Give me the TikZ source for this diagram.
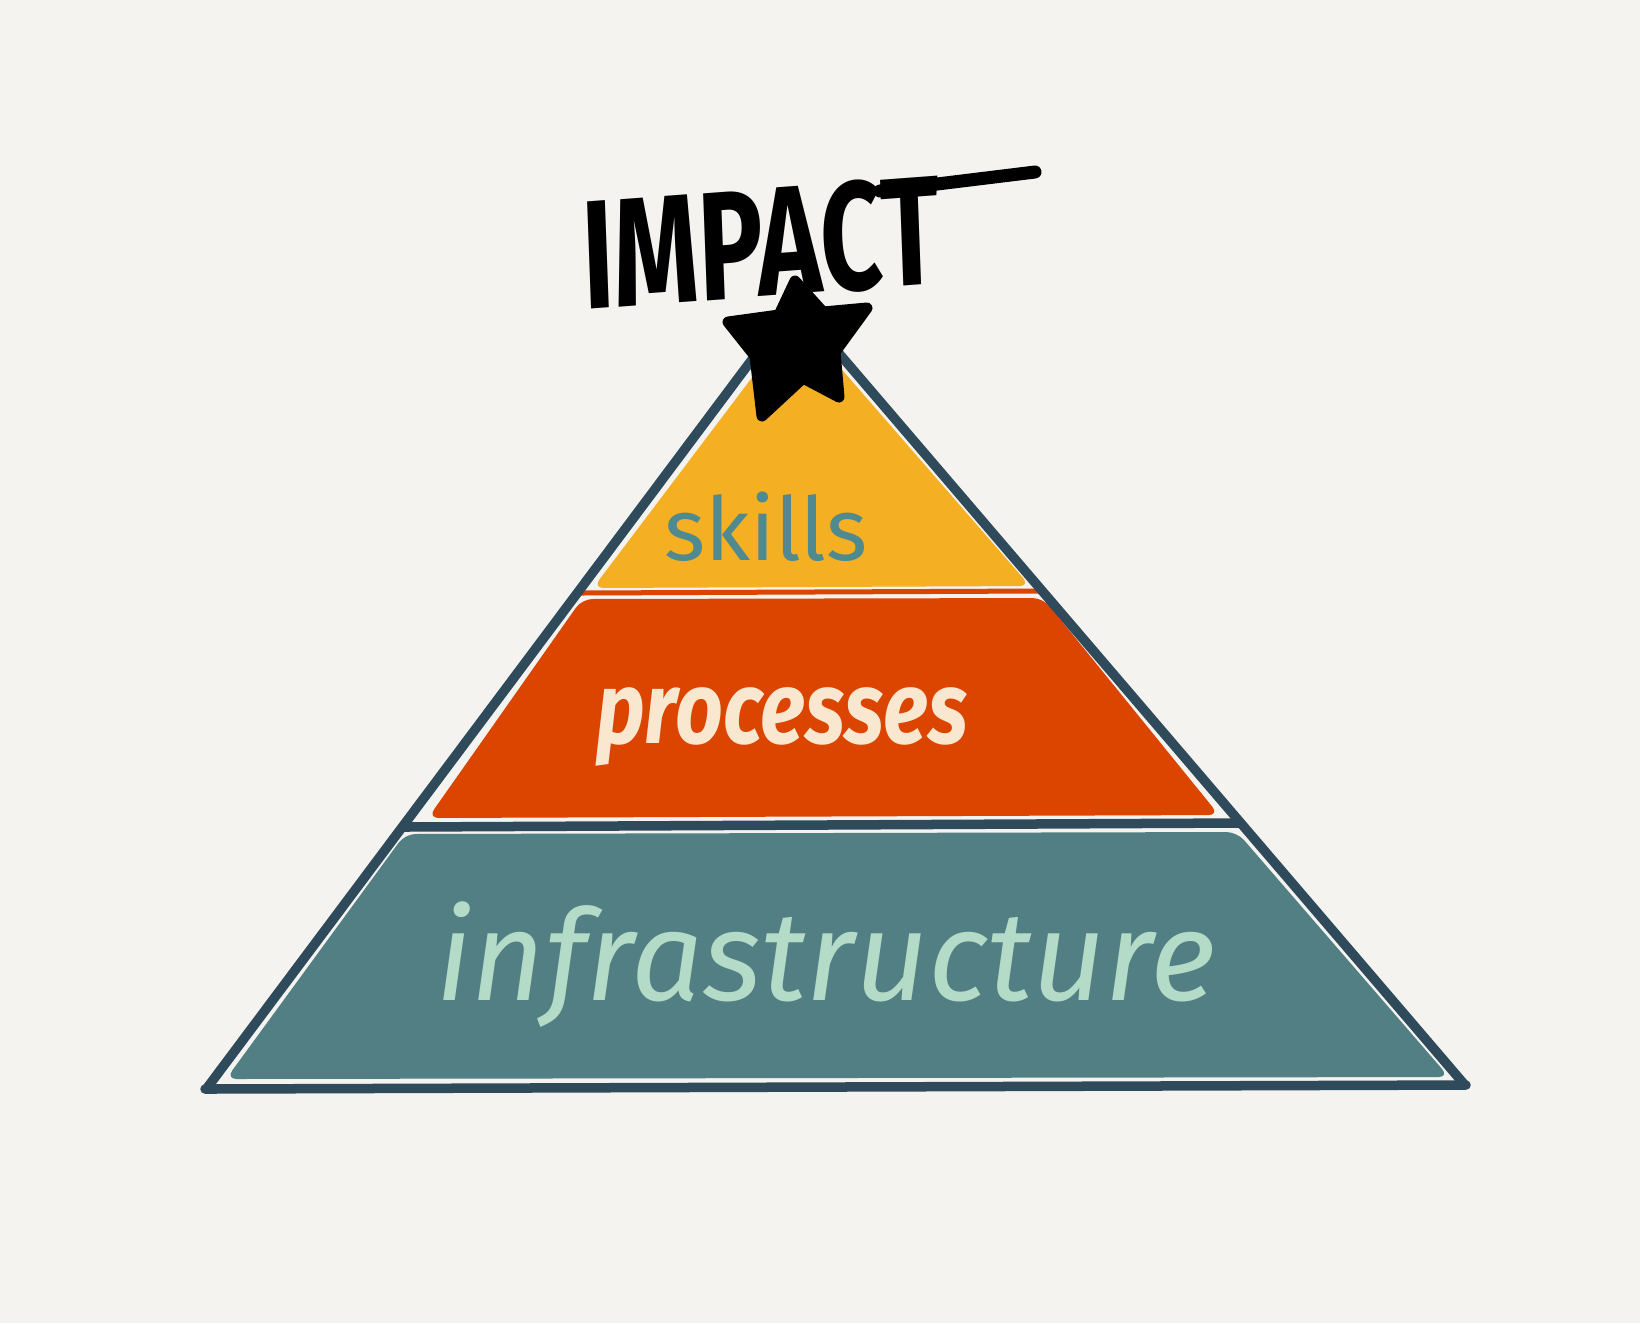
\documentclass[tikz,border=0pt]{standalone}
\usepackage{fontspec}
\setmainfont{Fira Sans}
\usetikzlibrary{calc}
\definecolor{paper}{HTML}{F4F3EF}
\definecolor{slate}{HTML}{2E4A5B}
\definecolor{mustard}{HTML}{F4AF22}
\definecolor{rust}{HTML}{DB4500}
\definecolor{seagreen}{HTML}{517F83}
\definecolor{cream}{HTML}{FAE7CF}
\definecolor{mint}{HTML}{B3DBC7}
\definecolor{skillink}{HTML}{4E8A90}
\def\band[#1](#2)(#3)(#4)(#5){\fill[#1] (#2) -- (#3) -- (#4) -- (#5) -- cycle;}

\begin{document}
\begin{tikzpicture}[x=0.01cm, y=-0.01cm]
			%%%%% START %%%%%
			
			\fill[paper] (0, 0) rectangle (1640, 1323);
			
			% layers
			\fill[mustard, rounded corners=3] (797, 318) -- (1030, 586) -- (593, 588) -- cycle;
			\draw[line width=0.5mm, color=rust, line cap=round] (578, 593) -- (1040, 591);
			\band[rust, rounded corners=3](582, 599)(1043, 598)(1219, 815)(428, 818)
			\band[seagreen, rounded corners=3](405, 834)(1237, 832)(1449, 1077)(226, 1079)
			
			% outline
			\draw[line width=0.95mm, color=slate, line join=round] (207, 1088) -- (795, 302) -- (1464, 1084);
			\draw[line width=0.95mm, color=slate, line cap=round] (205, 1089) -- (1466, 1085);
			\draw[line width=0.95mm, color=slate] (403, 827) -- (1240, 823);
			
			% labels
			\node[text=skillink, font=\fontsize{25}{25}\selectfont, anchor=base] (skills) at (766, 560) {skills};
			\node[text=cream, font=\fontsize{29}{29}\selectfont\bfseries\itshape, anchor=base, xscale=0.82, transform shape] (processes) at (782, 743) {processes};
			\node[text=mint, font=\fontsize{36}{36}\selectfont\itshape, anchor=base] (infra) at (826, 1000) {infrastructure};
			
			% star on top
			\draw[fill=black, line width=1.1mm, line join=round] (795, 281) -- (823, 312) -- (867, 308) -- (835, 352) -- (839, 397) -- (803, 378) -- (762, 416) -- (755, 356) -- (728, 322) -- (779, 315) -- cycle;
			
			\node[font=\fontsize{44}{44}\selectfont\bfseries, xscale=0.7, transform shape, rotate=3] (impact) at (761, 243) {IMPACT};
			\draw[line width=1.3mm, line cap=round] (880, 191) -- (1035, 172);
			
			%%%%% END %%%%%
\end{tikzpicture}
\end{document}
